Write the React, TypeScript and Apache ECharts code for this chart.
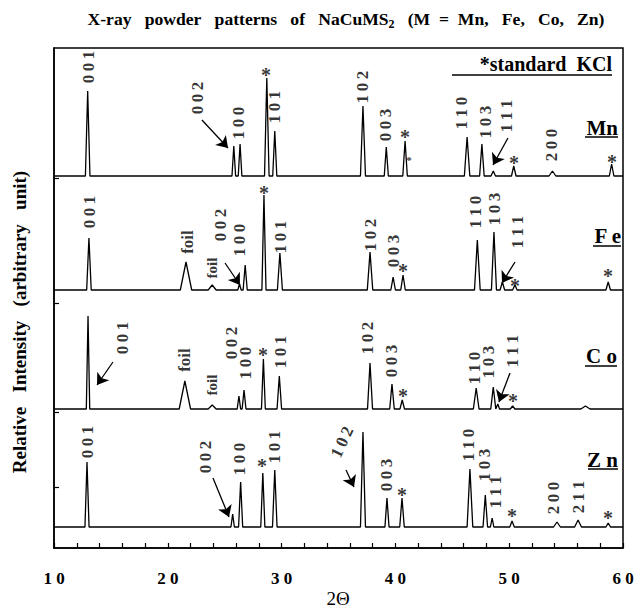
import React, { useEffect, useRef } from 'react';
import * as echarts from 'echarts';

// ---- axis ticks ----
const xTickValues = [10, 20, 30, 40, 50, 60];
const xTickLabels = ['1 0', '2 0', '3 0', '4 0', '5 0', '6 0'];
const yTickValues = [61, 136, 245, 370];

// ---- samples ----
const sampleNames = ['Mn', 'Fe', 'Co', 'Zn'];
const sampleLabels = ['Mn', 'F e', 'C o', 'Z n'];

// ---- peak lists (2θ, relative intensity, half width at base) ----
const mnPos = [12.96, 25.8, 26.35, 28.7, 29.4, 37.15, 39.2, 40.85, 46.3, 47.6, 48.6, 50.4, 53.8, 59.0];
const mnInt = [85, 30, 32, 98, 45, 70, 29, 35, 39, 32, 5, 10, 5, 12];
const mnHw = [0.2, 0.16, 0.16, 0.2, 0.18, 0.22, 0.18, 0.2, 0.24, 0.2, 0.2, 0.2, 0.3, 0.2];

const fePos = [13.07, 21.6, 23.9, 26.3, 26.8, 28.45, 29.85, 37.77, 39.8, 40.67, 47.2, 48.66, 49.4, 50.5, 58.7];
const feInt = [52, 28, 5, 6, 25, 95, 37, 38, 13, 15, 50, 58, 8, 5, 8];
const feHw = [0.2, 0.5, 0.35, 0.15, 0.18, 0.18, 0.22, 0.24, 0.2, 0.2, 0.25, 0.22, 0.2, 0.2, 0.2];

const coPos = [12.99, 21.5, 23.9, 26.25, 26.7, 28.4, 29.8, 37.77, 39.7, 40.6, 47.1, 48.6, 49.0, 50.3, 56.7];
const coInt = [93, 28, 4, 13, 19, 50, 33, 46, 25, 9, 21, 22, 5, 3, 3];
const coHw = [0.15, 0.5, 0.35, 0.15, 0.17, 0.17, 0.2, 0.22, 0.2, 0.2, 0.25, 0.22, 0.15, 0.2, 0.4];

const znPos = [12.9, 25.7, 26.4, 28.35, 29.4, 37.15, 39.26, 40.58, 46.55, 47.9, 48.5, 50.25, 54.2, 56.05, 58.7];
const znInt = [65, 13, 45, 54, 57, 95, 29, 29, 58, 32, 9, 6, 5, 7, 4];
const znHw = [0.18, 0.15, 0.18, 0.18, 0.2, 0.22, 0.18, 0.2, 0.25, 0.2, 0.15, 0.2, 0.3, 0.3, 0.2];

// vertical stacking offsets of the traces (layout)
const traceOffset = [372, 258, 139, 21];

// ---- annotations: [text, 2θ, y, size?, rotate?] ----
const mnNotes: any[] = [
  ['001', 12.99, 481], ['002', 22.65, 450], ['100', 26.17, 425], ['*', 28.63, 476], ['101', 29.42, 441],
  ['102', 37.15, 461], ['003', 39.09, 423], ['*', 40.84, 414], ['*', 41.2, 390, 11], ['110', 45.85, 435],
  ['103', 47.96, 426], ['111', 49.72, 432], ['*', 50.42, 388], ['200', 53.76, 403], ['*', 59.03, 389],
];
const feNotes: any[] = [
  ['001', 13.08, 336], ['foil', 21.69, 306], ['foil', 23.88, 280, 15], ['002', 24.59, 323], ['100', 26.34, 308],
  ['*', 28.45, 358], ['101', 29.86, 311], ['102', 37.77, 313], ['003', 39.79, 297], ['*', 40.67, 280],
  ['110', 47.08, 336], ['103', 48.75, 339], ['111', 50.77, 316], ['*', 50.51, 265], ['*', 58.68, 275],
];
const coNotes: any[] = [
  ['001', 15.98, 210], ['foil', 21.51, 188], ['foil', 23.88, 163, 15], ['002', 25.64, 205], ['100', 26.87, 185],
  ['*', 28.37, 196], ['101', 29.86, 196], ['102', 37.59, 210], ['003', 39.7, 187], ['*', 40.67, 155],
  ['110', 46.99, 180], ['103', 48.14, 186], ['111', 50.33, 197], ['*', 50.33, 150],
];
const znNotes: any[] = [
  ['001', 12.9, 106], ['002', 23.27, 91], ['100', 26.34, 89], ['*', 28.28, 85], ['101', 29.42, 101],
  ['102', 35.31, 106, 17, 65], ['003', 39.26, 73], ['*', 40.58, 56], ['110', 46.38, 103], ['103', 47.87, 83],
  ['111', 48.84, 56], ['*', 50.25, 35], ['200', 53.85, 50], ['211', 56.05, 51], ['*', 58.68, 33],
];

// arrows: [x1, y1, x2, y2] (2θ, y)
const arrows = [
  [23.0, 428, 25.29, 400], [49.89, 410, 48.58, 383],
  [25.03, 285, 26.34, 263], [50.51, 286, 49.37, 265],
  [15.18, 186, 13.78, 163], [50.07, 175, 49.1, 146],
  [23.97, 70, 25.38, 31], [35.66, 78, 36.36, 61],
];

const FONT = '"Liberation Serif", "Times New Roman", serif';

function buildTrace(pos: number[], inten: number[], hw: number[], off: number) {
  const pts: number[][] = [[10, off]];
  pos.forEach((p, i) => {
    pts.push([p - hw[i], off]);
    pts.push([p, off + inten[i]]);
    pts.push([p + hw[i], off]);
  });
  pts.push([60, off]);
  return pts;
}

function noteItem(n: any[]) {
  const [t, x, y, size, rot] = n;
  const isStar = t === '*';
  const fs = size || (isStar ? 20 : 17);
  const text = isStar || t === 'foil' ? t : String(t).split('').join('\u2009');
  return {
    value: [x, y],
    label: {
      formatter: text,
      rotate: isStar ? 0 : rot || 90,
      fontSize: fs,
      offset: isStar ? [0, fs * 0.17] : [0, 0],
    },
  };
}

export default function App() {
  const ref = useRef<HTMLDivElement>(null);
  useEffect(() => {
    if (!ref.current) return;
    const chart = echarts.init(ref.current, null, { renderer: 'svg' });
    const traces = [
      buildTrace(mnPos, mnInt, mnHw, traceOffset[0]),
      buildTrace(fePos, feInt, feHw, traceOffset[1]),
      buildTrace(coPos, coInt, coHw, traceOffset[2]),
      buildTrace(znPos, znInt, znHw, traceOffset[3]),
    ];
    const notes = [...mnNotes, ...feNotes, ...coNotes, ...znNotes].map(noteItem);
    const underline = (x1: number, x2: number, y: number) => ({
      type: 'line',
      shape: { x1, y1: y, x2, y2: y },
      style: { stroke: '#000', lineWidth: 1.5 },
    });
    const sampleText = (t: string, x: number, y: number) => ({
      type: 'text',
      x,
      y,
      style: {
        text: t,
        font: `bold 21px ${FONT}`,
        fill: '#000',
        align: 'right',
        verticalAlign: 'middle',
      },
    });
    const option: any = {
      animation: false,
      backgroundColor: '#fff',
      grid: { left: 54, right: 16, top: 48, bottom: 62, show: true, borderColor: '#000', borderWidth: 1.5, backgroundColor: 'transparent' },
      xAxis: {
        type: 'value',
        min: 10,
        max: 60,
        interval: 2,
        axisLine: { show: true, lineStyle: { color: '#000', width: 1.5 } },
        axisTick: { show: true, inside: true, length: 5, lineStyle: { color: '#000', width: 1.2 } },
        axisLabel: {
          color: '#000',
          fontFamily: FONT,
          fontWeight: 'bold',
          fontSize: 17,
          margin: 22,
          formatter: (v: number) => {
            const i = xTickValues.indexOf(v);
            return i >= 0 ? xTickLabels[i] : '';
          },
        },
        splitLine: { show: false },
      },
      yAxis: {
        type: 'value',
        min: 0,
        max: 500,
        axisLine: { show: true, lineStyle: { color: '#000', width: 1.5 } },
        axisTick: { show: true, inside: true, length: 5, customValues: yTickValues, lineStyle: { color: '#000', width: 1.2 } },
        axisLabel: { show: false },
        splitLine: { show: false },
      },
      series: [
        ...traces.map((d, i) => ({
          type: 'line',
          name: sampleNames[i],
          data: d,
          showSymbol: false,
          symbol: 'none',
          lineStyle: { color: '#000', width: 1.3 },
          silent: true,
          z: 2,
        })),
        {
          type: 'scatter',
          data: notes,
          symbolSize: 0,
          silent: true,
          label: {
            show: true,
            position: 'inside',
            align: 'center',
            verticalAlign: 'middle',
            color: '#000',
            fontFamily: FONT,
            fontWeight: 'bold',
          },
          z: 5,
        },
        {
          type: 'lines',
          coordinateSystem: 'cartesian2d',
          data: arrows.map((a) => ({ coords: [[a[0], a[1]], [a[2], a[3]]] })),
          symbol: ['none', 'arrow'],
          symbolSize: 11,
          silent: true,
          lineStyle: { color: '#000', width: 1.3, opacity: 1 },
          z: 5,
        },
      ],
      graphic: [
        {
          type: 'text',
          x: 346,
          y: 19,
          style: {
            text: '{a|X-ray\u00A0\u00A0\u00A0powder\u00A0\u00A0\u00A0patterns\u00A0\u00A0\u00A0of\u00A0\u00A0\u00A0NaCuMS}{b|2}{a|\u00A0\u00A0\u00A0(M\u00A0\u00A0=\u00A0\u00A0Mn,\u00A0\u00A0\u00A0Fe,\u00A0\u00A0\u00A0Co,\u00A0\u00A0\u00A0Zn)}',
            rich: {
              a: { fontFamily: FONT, fontWeight: 'bold', fontSize: 17.6, lineHeight: 21, fill: '#000' },
              b: { fontFamily: FONT, fontWeight: 'bold', fontSize: 12, lineHeight: 12, verticalAlign: 'bottom', fill: '#000' },
            },
            align: 'center',
            verticalAlign: 'middle',
          },
        },
        {
          type: 'text',
          x: 19,
          y: 322,
          rotation: Math.PI / 2,
          style: {
            text: 'Relative\u00A0\u00A0\u00A0Intensity\u00A0\u00A0\u00A0(arbitrary\u00A0\u00A0\u00A0unit)',
            font: `bold 19px ${FONT}`,
            fill: '#000',
            align: 'center',
            verticalAlign: 'middle',
          },
        },
        {
          type: 'text',
          x: 338,
          y: 598,
          style: { text: '2Θ', font: `19px ${FONT}`, fill: '#000', align: 'center', verticalAlign: 'middle' },
        },
        {
          type: 'text',
          x: 612,
          y: 64,
          style: { text: '*standard\u00A0\u00A0KCl', font: `bold 20px ${FONT}`, fill: '#000', align: 'right', verticalAlign: 'middle' },
        },
        underline(452, 612, 75),
        sampleText(sampleLabels[0], 618, 128),
        underline(585, 618, 137),
        sampleText(sampleLabels[1], 621, 236),
        underline(593, 621, 246),
        sampleText(sampleLabels[2], 617, 356),
        underline(585, 617, 366),
        sampleText(sampleLabels[3], 618, 460),
        underline(588, 618, 469),
      ],
    };
    chart.setOption(option);
    return () => chart.dispose();
  }, []);
  return <div ref={ref} style={{ position: 'absolute', left: 0, top: 0, width: 639, height: 610 }} />;
}
